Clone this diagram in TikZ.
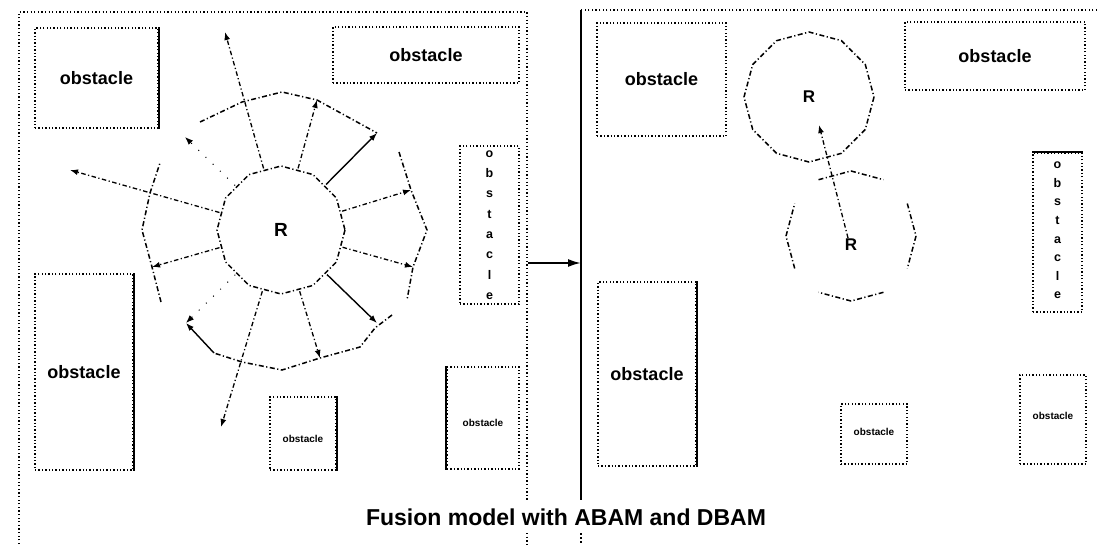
\documentclass[tikz,border=0pt]{standalone}
\usepackage{fontspec}
\setmainfont{Liberation Sans}
\usetikzlibrary{arrows.meta,calc}
\begin{document}
\begin{tikzpicture}[x=1pt,y=-1pt,
  frameline/.style={line width=1.7pt, dash pattern=on 1.3pt off 2.3pt},
  obst/.style={draw, line width=1.5pt, dash pattern=on 1.3pt off 2.1pt, inner sep=0pt, font=\bfseries\fontsize{18}{21}\selectfont},
  tiny/.style={font=\bfseries\fontsize{10}{12}\selectfont},
  vert/.style={align=center, font=\bfseries\fontsize{12.5}{20.3}\selectfont},
  vertR/.style={align=center, font=\bfseries\fontsize{12.5}{18.6}\selectfont},
  solidedge/.style={line width=1.6pt},
  robotline/.style={line width=1.5pt, dash pattern=on 5pt off 2.5pt on 1.2pt off 2.5pt},
  ray/.style={line width=1.3pt, dash pattern=on 4.5pt off 2.5pt on 1.2pt off 2.5pt, -{Latex[length=8pt,width=6pt]}},
  solidray/.style={line width=1.4pt, -{Latex[length=8pt,width=6pt]}},
  faintray/.style={line width=1pt, dash pattern=on 1pt off 9pt, -{Latex[length=8pt,width=6pt]}},
  robot/.style={inner sep=1pt, font=\bfseries\fontsize{19}{22}\selectfont},
]
\useasboundingbox (0,0) rectangle (1097,544);

% ---------- frames ----------
\draw[frameline] (19,544) -- (19,12) -- (527,12) -- (527,500);
\draw[frameline] (527,533) -- (527,544);
\draw[frameline] (1097,10) -- (581,10);
\draw[line width=1.3pt] (581,10) -- (581,500);
\draw[line width=1.3pt, dash pattern=on 2pt off 2pt] (581,533) -- (581,544);

% ---------- obstacles, left map ----------
\node[obst, minimum width=123pt, minimum height=100pt] (L1) at (96.5,78) {obstacle};
\node[obst, minimum width=186pt, minimum height=56pt]  (L2) at (426,55) {obstacle};
\node[obst, minimum width=59pt,  minimum height=158pt] (L3) at (489.5,225) {};
\node[vert] at (L3) {o\\b\\s\\t\\a\\c\\l\\e};
\node[obst, minimum width=98pt,  minimum height=196pt] (L4) at (84,372) {obstacle};
\node[obst, minimum width=66pt,  minimum height=73pt]  (L5) at (303,433.5) {};
\node[tiny] at ([yshift=-5pt]L5.center) {obstacle};
\node[obst, minimum width=72pt,  minimum height=102pt] (L6) at (483,418) {};
\node[tiny] at ([yshift=-5pt]L6.center) {obstacle};
\draw[solidedge] (L1.north east) -- (L1.south east);
\draw[solidedge] (L4.north east) -- (L4.south east);
\draw[solidedge] (L5.north east) -- (L5.south east);
\draw[solidedge] (L6.north west) -- (L6.south west);

% ---------- obstacles, right map ----------
\node[obst, minimum width=129pt, minimum height=113pt] (M1) at (661.5,79.5) {obstacle};
\node[obst, minimum width=180pt, minimum height=68pt]  (M2) at (995,56) {obstacle};
\node[obst, minimum width=49pt,  minimum height=159pt] (M3) at (1057.5,232.5) {};
\node[vertR] at ([yshift=2pt]M3.center) {o\\b\\s\\t\\a\\c\\l\\e};
\node[obst, minimum width=98pt,  minimum height=184pt] (M4) at (647,374) {obstacle};
\node[obst, minimum width=66pt,  minimum height=60pt]  (M5) at (874,434) {};
\node[tiny] at ([yshift=2pt]M5.center) {obstacle};
\node[obst, minimum width=66pt,  minimum height=89pt]  (M6) at (1053,419.5) {};
\node[tiny] at ([yshift=4pt]M6.center) {obstacle};
\draw[solidedge] (M3.north west) -- (M3.north east);
\draw[solidedge] (M4.north east) -- (M4.south east);

% ---------- robot with its sensing ring, left map ----------
\node[robot] (RL) at (281,230) {R};
\draw[robotline] ($(RL.center)+(0:64)$)
  \foreach \a in {30,60,...,330} { -- ($(RL.center)+(\a:64)$) } -- cycle;
% outer ring, drawn in pieces
\draw[robotline] (200,122) -- (242,102) -- (282,92) -- (317,100) -- (377,133);
\draw[robotline] (399,152) -- (411,190) -- (427,230) -- (413,267) -- (407,300);
\draw[robotline] (392,315) -- (375,328) -- (360,347) -- (320,358) -- (282,370) -- (242,362) -- (214,353);
\draw[robotline] (161,302) -- (152,267) -- (142,230) -- (150,193) -- (160,163);

\coordinate (o1) at (317,100);
\coordinate (o2) at (377,133);
\coordinate (o3) at (411,190);
\coordinate (o4) at (413,267);
\coordinate (o5) at (377,323);
\coordinate (o6) at (320,358);
\coordinate (o7) at (221,427);
\coordinate (o8) at (152,267);
\coordinate (o9) at (70,170);
\coordinate (o10) at (225,32);
\coordinate (o11) at (185,137);
\coordinate (o12) at (186,323);
\coordinate (e12) at (214,353);

\draw[ray]      ($(RL.center)!64pt!(o1)$) -- (o1);
\draw[solidray] ($(RL.center)!64pt!(o2)$) -- (o2);
\draw[ray]      ($(RL.center)!64pt!(o3)$) -- (o3);
\draw[ray]      ($(RL.center)!64pt!(o4)$) -- (o4);
\draw[solidray] ($(RL.center)!64pt!(o5)$) -- (o5);
\draw[ray]      ($(RL.center)!64pt!(o6)$) -- (o6);
\draw[ray]      ($(RL.center)!64pt!(o7)$) -- (o7);
\draw[ray]      ($(RL.center)!64pt!(o8)$) -- (o8);
\draw[ray]      ($(RL.center)!64pt!(o9)$) -- (o9);
\draw[ray]      ($(RL.center)!64pt!(o10)$) -- (o10);
\draw[faintray] ($(RL.center)!64pt!(o11)$) -- (o11);
\draw[faintray] ($(RL.center)!64pt!(o12)$) -- (o12);
\draw[solidray] (e12) -- (o12);

% ---------- the two robots, right map ----------
\node[robot, font=\bfseries\fontsize{17}{20}\selectfont] (RT) at (809,97) {R};
\node[robot, font=\bfseries\fontsize{17}{20}\selectfont] (RB) at (851,245) {R};
\draw[robotline] ($(RT.center)+(0:65)$)
  \foreach \a in {30,60,...,330} { -- ($(RT.center)+(\a:65)$) } -- cycle;
\coordinate (cb) at (851,236);
\foreach \a in {60,150,240,330} {
  \draw[robotline] ($(cb)+(\a:65)$) -- ($(cb)+(\a+30:65)$) -- ($(cb)+(\a+60:65)$);
}
\coordinate (tip) at (819,125);
\draw[ray] ([xshift=-3pt]RB.north) -- (tip);

% ---------- fusion arrow ----------
\coordinate (lf) at (528,263);
\coordinate (rf) at (581,263);
\draw[line width=2pt, -{Latex[length=13pt,width=8pt]}] (lf) -- (rf);

% ---------- caption ----------
\node[font=\bfseries\fontsize{23}{26}\selectfont] (cap) at (566,517) {Fusion model with ABAM and DBAM};
\end{tikzpicture}
\end{document}
